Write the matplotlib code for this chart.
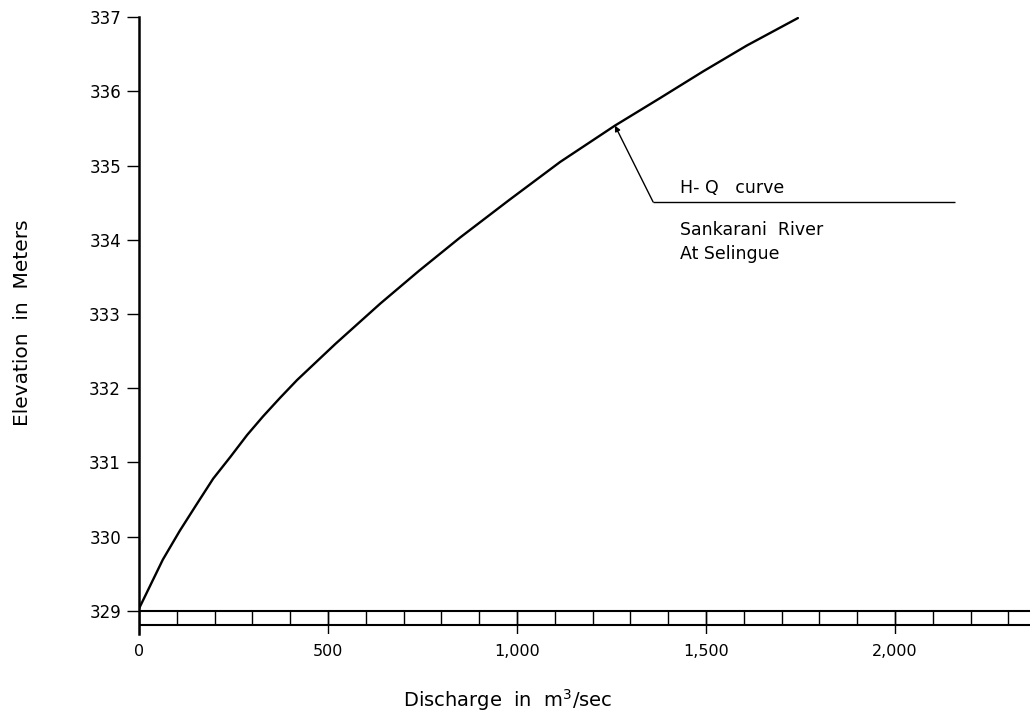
"""H-Q rating curve, Sankarani River at Selingue."""

import matplotlib

matplotlib.use("Agg")
import matplotlib.pyplot as plt

# --- data ---
discharge = [0, 63, 108, 153, 196, 241, 286, 328, 373, 418, 520,
             638, 740, 849, 980, 1114, 1259, 1378, 1492, 1608, 1743]
elevation = [329.03, 329.69, 330.08, 330.44, 330.78, 331.07, 331.37, 331.62,
             331.87, 332.11, 332.60, 333.14, 333.58, 334.03, 334.54, 335.05,
             335.54, 335.91, 336.27, 336.62, 336.99]

y_ticks = [329, 330, 331, 332, 333, 334, 335, 336, 337]
x_ticks = [0, 500, 1000, 1500, 2000]
x_labels = ["0", "500", "1,000", "1,500", "2,000"]
band_ticks = list(range(0, 2400, 100))

annot_lines = ["H- Q   curve", "Sankarani  River", "At Selingue"]

fig = plt.figure(figsize=(10.30, 7.21), dpi=100)
ax = fig.add_axes([0.135, 0.120, 0.865, 0.856])

ax.plot(discharge, elevation, color="black", lw=1.7,
        solid_capstyle="round", solid_joinstyle="round")

ax.set_xlim(0, 2357)
ax.set_ylim(328.68, 337)

for side in ("top", "right", "bottom"):
    ax.spines[side].set_visible(False)
ax.spines["left"].set_linewidth(1.8)
ax.spines["left"].set_bounds(328.68, 337)

# y axis ticks
ax.set_yticks(y_ticks)
ax.set_yticklabels([str(v) for v in y_ticks])
ax.tick_params(axis="y", direction="out", length=9, width=1.0, pad=4,
               labelsize=12)

# x axis: ruler band drawn with two rails and cross ticks
band_top, band_bot = 329.0, 328.81
ax.hlines([band_top, band_bot], 0, 2357, colors="black", lw=1.5)
ax.vlines(band_ticks, band_bot, band_top, colors="black", lw=1.0)
ax.vlines(x_ticks, 328.68, band_top, colors="black", lw=1.0)

ax.set_xticks(x_ticks)
ax.set_xticklabels(x_labels)
ax.tick_params(axis="x", length=0, pad=7, labelsize=11.5)

fig.text(0.493, 0.029, "Discharge  in  m$^3$/sec", ha="center", va="center",
         fontsize=14)
fig.text(0.022, 0.553, "Elevation  in  Meters", ha="center", va="center",
         rotation=90, fontsize=14.5)

# callout
ax.annotate("", xy=(discharge[16], elevation[16]), xytext=(1360, 334.51),
            arrowprops=dict(arrowstyle="-|>", color="black", lw=1.0,
                            mutation_scale=8, shrinkA=0, shrinkB=0))
ax.hlines(334.51, 1360, 2159, colors="black", lw=1.0)
ax.text(1431, 334.58, annot_lines[0], ha="left", va="bottom", fontsize=12.5)
ax.text(1431, 334.13, annot_lines[1], ha="left", va="center", fontsize=12.5)
ax.text(1431, 333.81, annot_lines[2], ha="left", va="center", fontsize=12.5)

fig.savefig("out.png", dpi=100)
